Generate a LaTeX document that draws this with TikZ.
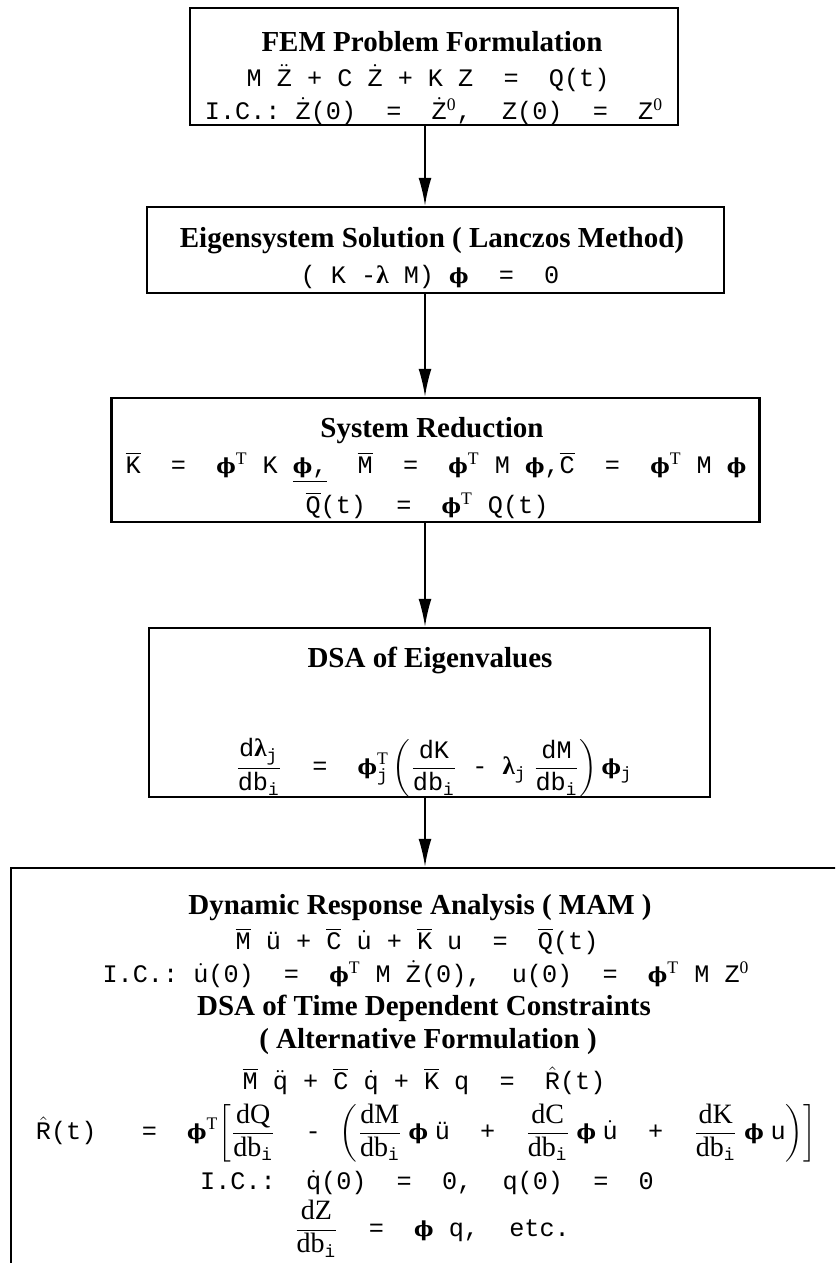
\documentclass[tikz,border=0pt]{standalone}
\usepackage{amsmath}
\usepackage{fontspec}
\setmainfont{Liberation Serif}
\setmonofont{Liberation Mono}
\newfontfamily\grk{Liberation Serif}
\newfontfamily\phf{DejaVu Serif}[Scale=0.82]
\usetikzlibrary{arrows.meta,positioning}

\newcommand{\fy}{\hbox{\phf\bfseries ϕ}}
\newcommand{\lam}{\hbox{\grk\bfseries λ}}
\newcommand{\ov}[1]{\ensuremath{\overline{\hbox{#1}}}}
\newcommand{\dt}[1]{\ensuremath{\dot{\hbox{#1}}}}
\newcommand{\ddt}[1]{\ensuremath{\ddot{\hbox{#1}}}}
\newcommand{\tp}{\textsuperscript{\rmfamily T}}
\newcommand{\zo}{\textsuperscript{\rmfamily 0}}
\newcommand{\eqs}{\hbox{~~=~~}}
% serif derivative d#1/db_i
\newcommand{\dfr}[1]{\frac{\hbox{\fontsize{14}{16}\rmfamily d#1}}{\hbox{\fontsize{14}{16}\rmfamily db}_{\mathtt{i}}}}

\begin{document}
\begin{tikzpicture}[
  x=0.5pt, y=-0.5pt,
  box/.style={draw, line width=1.2pt, inner sep=0pt},
  ttl/.style={font=\fontsize{14.5}{16}\selectfont\bfseries, inner sep=0pt},
  eqn/.style={font=\fontsize{12.6}{14}\selectfont\ttfamily, inner sep=0pt},
  arr/.style={-{Latex[length=14pt,width=6.5pt]}, line width=1pt}
]
\useasboundingbox (0,0) rectangle (835,1263);
\fill[white] (0,0) rectangle (835,1263);
\clip (0,0) rectangle (835,1263);
\coordinate (ax) at (425,0);

% boxes
\node[box, minimum width=244pt, minimum height=58.5pt] (fem) at (434,66.5) {};
\node[box, minimum width=288.5pt, minimum height=43pt] (eig) at (435.5,250) {};
\node[box, minimum width=324pt, minimum height=62pt] (red) at (435.5,460) {};
\node[box, minimum width=280.5pt, minimum height=84.5pt] (dsa) at (429.5,712.5) {};
\node[box, minimum width=450pt, minimum height=225pt] (dyn) at (461,1093) {};

% FEM problem
\node[ttl] (femA) at (432,42) {FEM Problem Formulation};
\node[eqn] (femB) at (428,78) {M \ddt{Z} + C \dt{Z} + K Z\eqs Q(t)};
\node[eqn] (femC) at (434,111) {I.C.:~\dt{Z}(0)\eqs\dt{Z}\zo,~~Z(0)\eqs Z\zo};

% eigensystem
\node[ttl] (eigA) at (432,241) {Eigensystem Solution ( Lanczos Method)};
\node[eqn] (eigB) at (430,277) {( K -\lam{} M)~\fy\eqs 0};

% reduction
\node[ttl] (redA) at (432,431) {System Reduction};
\node[eqn] (redB) at (436,467) {\ov{K}\eqs\fy\tp{} K \underline{\fy,}~~\ov{M}\eqs\fy\tp{} M \fy,\ov{C}\eqs\fy\tp{} M \fy};
\node[eqn] (redC) at (427,505) {\ov{Q}(t)\eqs\fy\tp{} Q(t)};

% eigenvalue sensitivity
\node[ttl] (dsaA) at (430,660) {DSA of Eigenvalues};
\node[eqn] (dsaB) at (434,768) {$\displaystyle
  \frac{\mathtt{d}\lam_{\mathtt{j}}}{\mathtt{db}_{\mathtt{i}}}\eqs
  \fy^{\mathrm{T}}_{\mathtt{j}}\left(\frac{\mathtt{dK}}{\mathtt{db}_{\mathtt{i}}}\hbox{~-~}
  \lam_{\mathtt{j}}\;\frac{\mathtt{dM}}{\mathtt{db}_{\mathtt{i}}}\right)\fy_{\mathtt{j}}$};

% dynamic response
\node[ttl] (dynA) at (420,908) {Dynamic Response Analysis ( MAM )};
\node[eqn] (dynB) at (417,941) {\ov{M} ü + \ov{C} \dt{u} + \ov{K} u\eqs\ov{Q}(t)};
\node[eqn] (dynC) at (426,974) {I.C.:~\dt{u}(0)\eqs\fy\tp{} M \dt{Z}(0),~~u(0)\eqs\fy\tp{} M Z\zo};
\node[ttl] (dynD) at (424,1008) {DSA of Time Dependent Constraints};
\node[ttl] (dynE) at (428,1042) {( Alternative Formulation )};
\node[eqn] (dynF) at (424,1081) {\ov{M} \ddt{q} + \ov{C} \dt{q} + \ov{K} q\eqs$\hat{\hbox{R}}$(t)};
\node[eqn] (dynG) at (426,1133) {$\displaystyle
  \hat{\hbox{R}}\hbox{(t)~~~=~~}\fy^{\mathrm{T}}\!\left[\dfr{Q}\hbox{~~-~}
  \left(\dfr{M}\;\fy\;\hbox{ü~~+~~}
  \dfr{C}\;\fy\;\dot{\hbox{u}}\hbox{~~+~~}
  \dfr{K}\;\fy\;\hbox{u}\right)\right]$};
\node[eqn] (dynH) at (427,1183) {I.C.:~~\dt{q}(0)\eqs 0,~~q(0)\eqs 0};
\node[eqn] (dynI) at (432,1229) {$\displaystyle\dfr{Z}$\eqs\fy~q,~~etc.};

% flow
\draw[arr] (fem.south -| ax) -- (eig.north -| ax);
\draw[arr] (eig.south -| ax) -- (red.north -| ax);
\draw[arr] (red.south -| ax) -- (dsa.north -| ax);
\draw[arr] (dsa.south -| ax) -- (dyn.north -| ax);
\end{tikzpicture}
\end{document}
